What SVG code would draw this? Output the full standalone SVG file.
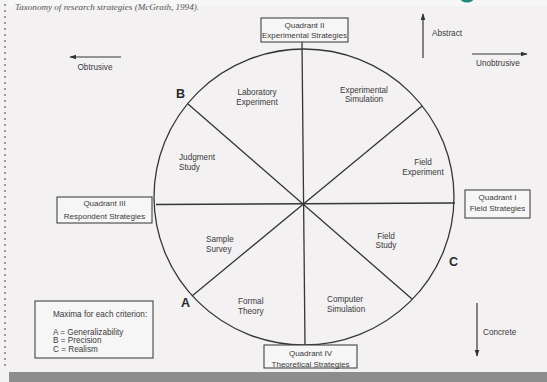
<svg xmlns="http://www.w3.org/2000/svg" width="547" height="382" viewBox="0 0 547 382">
<defs>
<marker id="ah" viewBox="0 0 10 10" refX="9" refY="5" markerWidth="7" markerHeight="7" orient="auto" markerUnits="userSpaceOnUse">
<path d="M0,1.5 L10,5 L0,8.5 z" fill="#333"/>
</marker>
</defs>
<style>
text{font-family:"Liberation Sans",Arial,sans-serif;fill:#3a3a3a;}
.s{font-size:8.2px;}
.q{font-size:8px;text-anchor:middle;}
.c{text-anchor:middle;}
.big{font-size:12.5px;font-weight:bold;fill:#2a2a2a;}
.box{fill:#f7f6f6;stroke:#444;stroke-width:1.1;}
.ln{stroke:#363636;stroke-width:1.3;fill:none;}
.ar{stroke:#363636;stroke-width:1.2;fill:none;marker-end:url(#ah);}
</style>
<rect x="0" y="0" width="547" height="382" fill="#f3f1f2"/>
<rect x="8" y="0" width="539" height="6" fill="#f8f7f8"/>
<ellipse cx="467" cy="-2" rx="7" ry="4.5" fill="#1e8a7c"/>
<g id="edge-dots" fill="#9a9a9a">
<path d="M4,4h2v2h-2zM4,10h2v2h-2zM4,16h2v2h-2zM4,22h2v2h-2zM4,28h2v2h-2zM4,34h2v2h-2zM4,40h2v2h-2zM4,46h2v2h-2zM4,52h2v2h-2zM4,58h2v2h-2zM4,64h2v2h-2zM4,70h2v2h-2zM4,76h2v2h-2zM4,82h2v2h-2zM4,88h2v2h-2zM4,94h2v2h-2zM4,100h2v2h-2zM4,106h2v2h-2zM4,112h2v2h-2zM4,118h2v2h-2zM4,124h2v2h-2zM4,130h2v2h-2zM4,136h2v2h-2zM4,142h2v2h-2zM4,148h2v2h-2zM4,154h2v2h-2zM4,160h2v2h-2zM4,166h2v2h-2zM4,172h2v2h-2zM4,178h2v2h-2zM4,184h2v2h-2zM4,190h2v2h-2zM4,196h2v2h-2zM4,202h2v2h-2zM4,208h2v2h-2zM4,214h2v2h-2zM4,220h2v2h-2zM4,226h2v2h-2zM4,232h2v2h-2zM4,238h2v2h-2zM4,244h2v2h-2zM4,250h2v2h-2zM4,256h2v2h-2zM4,262h2v2h-2zM4,268h2v2h-2zM4,274h2v2h-2zM4,280h2v2h-2zM4,286h2v2h-2zM4,292h2v2h-2zM4,298h2v2h-2zM4,304h2v2h-2zM4,310h2v2h-2zM4,316h2v2h-2zM4,322h2v2h-2zM4,328h2v2h-2zM4,334h2v2h-2zM4,340h2v2h-2zM4,346h2v2h-2zM4,352h2v2h-2zM4,358h2v2h-2zM4,364h2v2h-2z"/>
</g>
<rect x="9" y="372" width="538" height="10" fill="#8e8d8e"/>
<text x="15" y="10" textLength="184" lengthAdjust="spacingAndGlyphs" style="font-family:'Liberation Serif','Times New Roman',serif;font-style:italic;font-size:8px;fill:#555">Taxonomy of research strategies (McGrath, 1994).</text>

<g id="connectors">
<ellipse class="ln" cx="304" cy="197" rx="150" ry="148"/>
<line class="ln" x1="302" y1="42" x2="305" y2="345"/>
<line class="ln" x1="156" y1="204.5" x2="455" y2="203"/>
<line class="ln" x1="188" y1="104" x2="412" y2="299"/>
<line class="ln" x1="192" y1="296" x2="422" y2="106"/>
<line class="ar" x1="121" y1="57" x2="70" y2="57"/>
<line class="ar" x1="472" y1="54" x2="527" y2="54"/>
<line class="ar" x1="423" y1="58" x2="423" y2="14"/>
<line class="ar" x1="477" y1="303" x2="477" y2="356"/>
</g>

<g id="q2"><rect class="box" x="261" y="18" width="87" height="24"/><text class="q" x="304.5" y="27.5">Quadrant II</text><text class="q" x="304.5" y="38">Experimental Strategies</text></g>
<g id="q3"><rect class="box" x="57" y="197" width="95" height="26"/><text class="q" x="104.5" y="206">Quadrant III</text><text class="q" x="104.5" y="219">Respondent Strategies</text></g>
<g id="q1"><rect class="box" x="465" y="190" width="65" height="28"/><text class="q" x="497.5" y="200">Quadrant I</text><text class="q" x="497.5" y="211">Field Strategies</text></g>
<g id="q4"><rect class="box" x="264" y="345" width="93" height="23"/><text class="q" x="310.5" y="356">Quadrant IV</text><text class="q" x="310.5" y="366.5">Theoretical Strategies</text></g>
<g id="maxima"><rect class="box" x="35" y="301" width="118" height="57"/>
<text class="s" x="53" y="317">Maxima for each criterion:</text>
<text class="s" x="53" y="335">A = Generalizability</text>
<text class="s" x="53" y="343">B =  Precision</text>
<text class="s" x="53" y="352">C =  Realism</text></g>

<g id="lab"><text class="s c" x="257" y="95">Laboratory</text><text class="s c" x="257" y="105">Experiment</text></g>
<g id="expsim"><text class="s c" x="364" y="93">Experimental</text><text class="s c" x="364" y="102">Simulation</text></g>
<g id="fieldexp"><text class="s c" x="423" y="165">Field</text><text class="s c" x="423" y="175">Experiment</text></g>
<g id="fieldstudy"><text class="s c" x="386" y="239">Field</text><text class="s c" x="386" y="248">Study</text></g>
<g id="compsim"><text class="s" x="327" y="302">Computer</text><text class="s" x="327" y="312">Simulation</text></g>
<g id="formal"><text class="s" x="238" y="304">Formal</text><text class="s" x="238" y="314">Theory</text></g>
<g id="survey"><text class="s" x="206" y="242">Sample</text><text class="s" x="206" y="252">Survey</text></g>
<g id="judgment"><text class="s" x="179" y="160">Judgment</text><text class="s" x="179" y="170">Study</text></g>

<g id="labels">
<text class="s c" x="95" y="70">Obtrusive</text>
<text class="s" x="476" y="66">Unobtrusive</text>
<text class="s" x="432" y="36">Abstract</text>
<text class="s" x="483" y="335">Concrete</text>
<text class="big" x="176" y="98">B</text>
<text class="big" x="181" y="307">A</text>
<text class="big" x="449" y="266">C</text>
</g>
</svg>
